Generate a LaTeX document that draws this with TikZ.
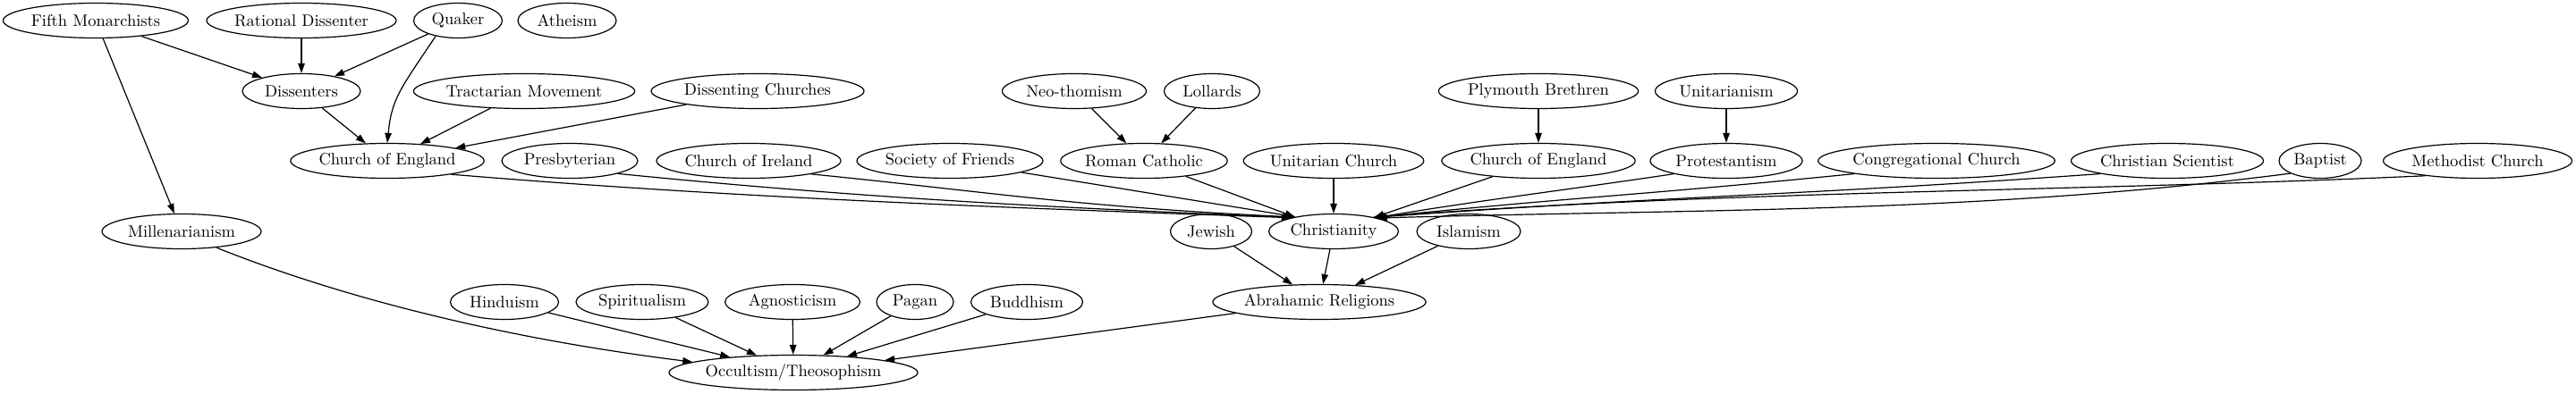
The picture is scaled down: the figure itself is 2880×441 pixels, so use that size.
\documentclass[tikz,border=0pt]{standalone}
\usepackage{fontspec}
\setmainfont{lmroman10-regular.otf}
\usepackage[]{tikz}
\usetikzlibrary{shapes.geometric}
\usetikzlibrary{arrows.meta}

\begin{document}
\begin{tikzpicture}[
        x=1pt, y=1pt,
        >={Triangle[length=11pt,width=7.5pt]},
        every path/.style = {line width=1.2pt},
        belief/.style = {draw, ellipse, inner xsep=0pt, inner ysep=2pt,
            minimum height=39pt, font=\fontsize{18.5}{20}\selectfont}
    ]

        \useasboundingbox (0,0) rectangle (2880,-441);

        % top row
        \node[belief, minimum width=207pt] (fifth) at (107,-23) {Fifth Monarchists};
        \node[belief, minimum width=212pt] (rational) at (337,-23) {Rational Dissenter};
        \node[belief, minimum width=99pt] (quaker) at (512,-23) {Quaker};
        \node[belief, minimum width=110pt] (atheism) at (634,-23) {Atheism};

        % second row
        \node[belief, minimum width=132pt] (dissenters) at (337,-102) {Dissenters};
        \node[belief, minimum width=247pt] (tractarian) at (586,-102) {Tractarian Movement};
        \node[belief, minimum width=238pt] (dissenting) at (847,-102) {Dissenting Churches};
        \node[belief, minimum width=161pt] (neothomism) at (1201,-102) {Neo-thomism};
        \node[belief, minimum width=107pt] (lollards) at (1355,-102) {Lollards};
        \node[belief, minimum width=219pt] (plymouth) at (1720,-102) {Plymouth Brethren};
        \node[belief, minimum width=159pt] (unitarianism) at (1930,-102) {Unitarianism};

        % denominations
        \node[belief, minimum width=216pt] (coe) at (433,-180) {Church of England};
        \node[belief, minimum width=152pt] (presbyterian) at (637,-180) {Presbyterian};
        \node[belief, minimum width=206pt] (ireland) at (837,-180) {Church of Ireland};
        \node[belief, minimum width=208pt] (friends) at (1062,-180) {Society of Friends};
        \node[belief, minimum width=186pt] (catholic) at (1279,-180) {Roman Catholic};
        \node[belief, minimum width=201pt] (unitarian) at (1491,-180) {Unitarian Church};
        \node[belief, minimum width=215pt] (coe2) at (1720,-180) {Church of England};
        \node[belief, minimum width=170pt] (protestantism) at (1930,-180) {Protestantism};
        \node[belief, minimum width=261pt] (congregational) at (2165,-180) {Congregational Church};
        \node[belief, minimum width=215pt] (scientist) at (2423,-180) {Christian Scientist};
        \node[belief, minimum width=92pt] (baptist) at (2594,-180) {Baptist};
        \node[belief, minimum width=211pt] (methodist) at (2770,-180) {Methodist Church};

        % fourth row
        \node[belief, minimum width=178pt] (millenarianism) at (203,-259) {Millenarianism};
        \node[belief, minimum width=91pt] (jewish) at (1354,-259) {Jewish};
        \node[belief, minimum width=145pt] (christianity) at (1491,-259) {Christianity};
        \node[belief, minimum width=116pt] (islamism) at (1642,-259) {Islamism};

        % fifth row
        \node[belief, minimum width=121pt] (hinduism) at (564,-338) {Hinduism};
        \node[belief, minimum width=148pt] (spiritualism) at (718,-338) {Spiritualism};
        \node[belief, minimum width=151pt] (agnosticism) at (886,-338) {Agnosticism};
        \node[belief, minimum width=86pt] (pagan) at (1023,-338) {Pagan};
        \node[belief, minimum width=125pt] (buddhism) at (1148,-338) {Buddhism};
        \node[belief, minimum width=236pt] (abrahamic) at (1475,-338) {Abrahamic Religions};

        \node[belief, minimum width=267pt] (occultism) at (887,-417) {Occultism/Theosophism};

        \draw[->] (fifth) -- (dissenters);
        \draw[->] (rational) -- (dissenters);
        \draw[->] (quaker) -- (dissenters);
        \draw[->] (quaker.-145) .. controls +(-40,-60) and +(5,50) .. (coe.90);
        \draw[->] (fifth) -- (millenarianism);
        \draw[->] (dissenters) -- (coe);
        \draw[->] (tractarian) -- (coe);
        \draw[->] (dissenting) -- (coe);
        \draw[->] (neothomism) -- (catholic);
        \draw[->] (lollards) -- (catholic);
        \draw[->] (plymouth) -- (coe2);
        \draw[->] (unitarianism) -- (protestantism);

        % into Christianity
        \draw[->] (coe.-12) .. controls +(300,-25) and +(-350,12) .. (christianity.162);
        \draw[->] (presbyterian.-15) .. controls +(250,-25) and +(-300,12) .. (christianity.161);
        \draw[->] (ireland.-12) .. controls +(200,-20) and +(-250,12) .. (christianity.160);
        \draw[->] (friends) -- (christianity.159);
        \draw[->] (catholic) -- (christianity);
        \draw[->] (unitarian) -- (christianity);
        \draw[->] (coe2) -- (christianity);
        \draw[->] (protestantism.-166) .. controls +(-120,-18) and +(120,20) .. (christianity.18);
        \draw[->] (congregational.-171) .. controls +(-250,-25) and +(250,25) .. (christianity.19);
        \draw[->] (scientist.-169) .. controls +(-350,-25) and +(350,25) .. (christianity.19);
        \draw[->] (baptist.-157) .. controls +(-350,-45) and +(350,10) .. (christianity.17);
        \draw[->] (methodist.-164) .. controls +(-400,-18) and +(400,30) .. (christianity.20);

        \draw[->] (jewish) -- (abrahamic);
        \draw[->] (christianity) -- (abrahamic);
        \draw[->] (islamism) -- (abrahamic);

        \draw[->] (millenarianism.-25) .. controls +(150,-60) and +(-200,25) .. (occultism.174);
        \draw[->] (hinduism) -- (occultism);
        \draw[->] (spiritualism) -- (occultism);
        \draw[->] (agnosticism) -- (occultism);
        \draw[->] (pagan) -- (occultism);
        \draw[->] (buddhism) -- (occultism);
        \draw[->] (abrahamic) -- (occultism);

    \end{tikzpicture}
\end{document}
